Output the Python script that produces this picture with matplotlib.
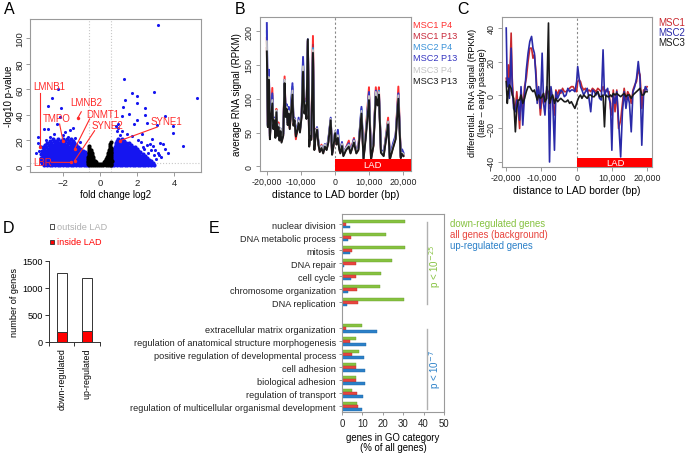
"""
Multi-panel figure: volcano plot, RNA signal around LAD borders,
genes inside/outside LADs and GO category enrichment.
"""
import numpy as np
import matplotlib
matplotlib.use('Agg')
import matplotlib.pyplot as plt
from matplotlib.patches import Rectangle
from matplotlib.ticker import FuncFormatter

plt.rcParams['font.family'] = ['Liberation Sans', 'DejaVu Sans']

W, H = 685, 456

# ---------------- A: volcano plot (log2 fold change, -log10 p) ----------------
# dense cloud, read row by row: (y, [x, ...])
blue_left_rows = [
    (0.8, [-3.0, -2.86, -2.71, -2.57, -2.43, -2.28, -2.14, -2.0, -1.86, -1.71, -1.57, -1.43, -1.29, -1.15, -1.01, -0.88, -0.76, -0.66]),
    (2.2, [-3.12, -2.97, -2.83, -2.68, -2.54, -2.39, -2.25, -2.11, -1.96, -1.82, -1.68, -1.54, -1.4, -1.26, -1.12, -0.98, -0.85, -0.73, -0.63]),
    (3.6, [-3.18, -3.03, -2.88, -2.74, -2.6, -2.45, -2.31, -2.17, -2.02, -1.88, -1.74, -1.6, -1.46, -1.32, -1.18, -1.05, -0.92, -0.8, -0.68]),
    (5.0, [-3.15, -3.0, -2.85, -2.71, -2.57, -2.42, -2.28, -2.14, -1.99, -1.85, -1.71, -1.57, -1.43, -1.29, -1.16, -1.03, -0.9, -0.78, -0.68]),
    (6.4, [-3.2, -3.05, -2.9, -2.76, -2.62, -2.47, -2.33, -2.19, -2.04, -1.9, -1.76, -1.62, -1.48, -1.34, -1.2, -1.07, -0.94, -0.82, -0.71]),
    (7.8, [-3.1, -2.95, -2.81, -2.66, -2.52, -2.38, -2.23, -2.09, -1.95, -1.8, -1.66, -1.52, -1.38, -1.25, -1.11, -0.98, -0.86, -0.74]),
    (9.2, [-3.16, -3.0, -2.86, -2.71, -2.57, -2.42, -2.28, -2.14, -1.99, -1.85, -1.71, -1.57, -1.43, -1.29, -1.16, -1.02, -0.9, -0.78]),
    (10.6, [-3.05, -2.9, -2.75, -2.6, -2.46, -2.31, -2.17, -2.03, -1.88, -1.74, -1.6, -1.46, -1.32, -1.18, -1.05, -0.92, -0.82]),
    (12.0, [-3.12, -2.94, -2.78, -2.63, -2.49, -2.34, -2.2, -2.05, -1.9, -1.76, -1.62, -1.48, -1.34, -1.2, -1.06, -0.93]),
    (13.4, [-3.0, -2.82, -2.66, -2.52, -2.37, -2.22, -2.08, -1.93, -1.79, -1.64, -1.5, -1.36, -1.22, -1.08]),
    (14.8, [-3.08, -2.9, -2.72, -2.55, -2.4, -2.24, -2.1, -1.95, -1.78, -1.62, -1.47, -1.32, -1.17]),
    (16.3, [-2.96, -2.74, -2.58, -2.41, -2.25, -2.08, -1.92, -1.76, -1.58, -1.42, -1.27]),
    (17.8, [-2.85, -2.62, -2.44, -2.27, -2.1, -1.93, -1.75, -1.55, -1.38]),
    (19.3, [-2.7, -2.48, -2.3, -2.12, -1.9, -1.68, -1.45]),
    (21.0, [-2.55, -2.25, -2.02, -1.8, -1.56]),
]
blue_right_rows = [
    (0.8, [0.66, 0.78, 0.92, 1.06, 1.2, 1.34, 1.48, 1.62, 1.76, 1.9, 2.04, 2.18, 2.32, 2.46, 2.6, 2.75, 2.9]),
    (2.2, [0.64, 0.76, 0.9, 1.04, 1.18, 1.32, 1.46, 1.6, 1.74, 1.88, 2.02, 2.16, 2.3, 2.44, 2.58, 2.72, 2.88]),
    (3.6, [0.65, 0.78, 0.92, 1.06, 1.2, 1.34, 1.48, 1.62, 1.76, 1.9, 2.04, 2.18, 2.32, 2.46, 2.6, 2.76]),
    (5.0, [0.67, 0.8, 0.94, 1.08, 1.22, 1.36, 1.5, 1.64, 1.78, 1.92, 2.06, 2.2, 2.34, 2.48, 2.64]),
    (6.4, [0.68, 0.82, 0.96, 1.1, 1.24, 1.38, 1.52, 1.66, 1.8, 1.94, 2.08, 2.22, 2.38, 2.55]),
    (7.8, [0.7, 0.84, 0.98, 1.12, 1.26, 1.4, 1.54, 1.68, 1.82, 1.96, 2.1, 2.26, 2.44]),
    (9.2, [0.71, 0.85, 0.99, 1.13, 1.27, 1.41, 1.55, 1.69, 1.83, 1.97, 2.12, 2.3]),
    (10.6, [0.73, 0.87, 1.01, 1.15, 1.29, 1.43, 1.57, 1.71, 1.85, 2.0, 2.18]),
    (12.0, [0.75, 0.89, 1.03, 1.17, 1.31, 1.45, 1.6, 1.75, 1.9, 2.06]),
    (13.4, [0.78, 0.92, 1.06, 1.2, 1.35, 1.5, 1.66, 1.82, 1.98]),
    (14.8, [0.8, 0.95, 1.1, 1.25, 1.4, 1.56, 1.73, 1.9]),
    (16.3, [0.84, 1.0, 1.16, 1.32, 1.48, 1.66]),
    (17.8, [0.88, 1.05, 1.22, 1.4, 1.58]),
    (19.3, [0.93, 1.12, 1.3]),
    (21.0, [0.98, 1.2]),
]
black_rows = [
    (0.4, [-0.58, -0.47, -0.36, -0.25, -0.14, -0.03, 0.08, 0.19, 0.3, 0.41, 0.52, 0.62]),
    (1.5, [-0.62, -0.51, -0.4, -0.29, -0.18, -0.07, 0.05, 0.16, 0.27, 0.38, 0.49, 0.6]),
    (2.8, [-0.62, -0.52, -0.42, -0.32, -0.22, 0.22, 0.32, 0.42, 0.52, 0.62]),
    (4.2, [-0.63, -0.54, -0.45, -0.36, -0.27, 0.27, 0.36, 0.45, 0.54, 0.63]),
    (5.6, [-0.62, -0.53, -0.44, -0.35, 0.35, 0.44, 0.53, 0.62]),
    (7.0, [-0.62, -0.53, -0.44, -0.36, 0.37, 0.45, 0.54, 0.62]),
    (8.4, [-0.6, -0.51, -0.42, 0.42, 0.51, 0.6]),
    (9.8, [-0.6, -0.51, -0.44, 0.44, 0.52, 0.6]),
    (11.2, [-0.58, -0.49, 0.48, 0.57]),
    (12.6, [-0.58, -0.5, 0.5, 0.58]),
    (14.0, [-0.57, 0.52, 0.6]),
    (15.5, [-0.58, 0.55]),
    (17.0, [0.56]),
    (19.0, [0.58]),
]
# sparse significant genes outside the dense cloud
blue_sparse_x = [-3.37, -2.26, -2.57, -2.83, -2.11, -2.8, -1.62, -1.7, -2.33, -3.24, -2.7, -2.0,
                 -1.9, -2.5, -3.0, -3.3, -3.35, -1.35, -1.1, -2.9, -3.45, -2.15, -1.45,
                 2.4, 2.62, 2.75, 2.92, 3.12, 3.3, 2.86, 2.52, 3.05, 2.98, 2.2, 2.05, 1.75,
                 1.45, 1.1, 0.9, 0.85, 0.98, 1.2, 2.26, 2.8, 3.24, 3.97, 4.5, 3.4, 3.5, 2.3,
                 2.68, 3.2, 3.65, 3.14, 1.28, 1.72, 2.0, 2.9, 5.24, 1.37, 2.0, 1.27, 2.46,
                 1.59, 2.46, 1.17, 3.54, 1.98, 2.52, 1.84, 3.08, 3.97, 1.0]
blue_sparse_y = [23, 60, 53, 47, 45, 29, 28, 22.5, 33, 16, 22.5, 24,
                 26.5, 25, 29, 12, 18, 22, 19, 20, 10, 38, 30,
                 13.5, 10.2, 12.5, 8.3, 10.5, 7.2, 15.6, 16.8, 5.1, 12.8, 18.5, 20.5, 23.5,
                 25, 24, 27, 31, 29.5, 27.5, 25, 21, 18, 26, 16, 17, 13, 15,
                 17, 8.5, 10.5, 110, 68, 57, 55, 58, 53, 52, 49, 46, 45,
                 41, 40, 39, 39, 36, 34, 33, 32, 31, 33]

genes = ['LMNB1', 'TMPO', 'LMNB2', 'DNMT1', 'SYNE2', 'SYNE1', 'LBR']
gene_x = [-3.24, -2.0, -1.2, -1.37, -1.37, 1.08, -1.55]
gene_y = [15, 19.8, 37.5, 13.3, 4.2, 19.8, 2.8]
label_x = [-3.62, -3.08, -1.62, -0.76, -0.45, 2.74, -3.62]
label_y = [62.5, 37.7, 49.8, 40.6, 32.0, 35.4, 2.9]
line_start = [(-3.24, 57), (-2.18, 32.8), (-1.01, 42.4), (-0.56, 36.7), (-0.29, 27.6), (3.1, 30.5), (-2.63, 2.9)]

# ---------------- B: average RNA signal around LAD borders ----------------
b_dist = [-20000, -19700, -19400, -19100, -18800, -18400, -18100, -17800, -17500, -17200,
          -16900, -16600, -16300, -16000, -15700, -15200, -14800, -14500, -14200, -13900,
          -13600, -13300, -12500, -12200, -11900, -11500, -11100, -10700, -10300, -9800,
          -9400, -9000, -8700, -8400, -8000, -7600, -7300, -7000, -6500, -6100,
          -5700, -5300, -4900, -4500, -4000, -3500, -3000, -2500, -2000, -1300,
          -900, -500, 0, 400, 800, 1200, 1500, 2000, 2400, 3200,
          4000, 4500, 5500, 6200, 6800, 7700, 8300, 9000, 9900, 10500,
          11200, 11900, 12400, 12800, 13400, 14200, 15500, 16000, 17000, 17700,
          18500, 19200, 19600, 20000]
msc3_p13 = [170, 58, 128, 40, 70, 93, 55, 68, 42, 80, 45, 58, 38, 52, 35, 45, 123, 73, 85, 61,
            78, 55, 106, 60, 68, 44, 52, 64, 50, 75, 140, 78, 90, 70, 188, 29, 45, 39, 168, 24,
            45, 54, 32, 21, 27, 19, 29, 24, 35, 68, 17, 29, 49, 32, 42, 25, 19, 30, 15, 24,
            29, 19, 35, 19, 24, 78, 10, 45, 98, 10, 30, 103, 90, 106, 20, 15, 62, 10, 28, 40,
            100, 12, 18, 15]
msc2_p13 = [212, 62, 143, 45, 78, 108, 65, 72, 50, 82, 55, 62, 44, 56, 40, 48, 128, 80, 92, 66,
            88, 62, 123, 68, 72, 50, 56, 72, 55, 80, 162, 85, 95, 78, 188, 35, 52, 44, 170, 28,
            50, 58, 36, 25, 30, 22, 33, 26, 40, 72, 20, 35, 52, 38, 54, 30, 22, 36, 18, 28,
            34, 22, 40, 22, 28, 88, 14, 50, 110, 14, 35, 112, 95, 110, 25, 20, 66, 14, 35, 46,
            108, 15, 25, 20]
msc1_p4 = [190, 65, 140, 48, 75, 116, 62, 70, 48, 85, 52, 65, 42, 55, 38, 52, 133, 78, 88, 70,
           82, 58, 115, 64, 70, 40, 55, 68, 58, 78, 150, 82, 100, 75, 186, 33, 50, 42, 193, 26,
           55, 56, 35, 24, 32, 22, 30, 28, 38, 70, 20, 32, 50, 34, 45, 28, 22, 34, 18, 28,
           38, 21, 42, 21, 30, 82, 13, 55, 117, 12, 33, 117, 92, 117, 24, 18, 72, 12, 30, 44,
           118, 14, 20, 18]
msc1_p13 = [175, 60, 130, 42, 72, 100, 58, 70, 45, 80, 48, 60, 40, 53, 37, 46, 125, 75, 86, 64,
            80, 56, 110, 62, 68, 45, 54, 66, 52, 76, 145, 80, 92, 72, 185, 31, 48, 40, 180, 25,
            48, 55, 33, 22, 28, 20, 30, 25, 36, 68, 18, 30, 49, 33, 43, 26, 20, 31, 16, 25,
            31, 20, 37, 20, 25, 80, 11, 48, 105, 11, 31, 108, 92, 108, 22, 16, 64, 11, 30, 42,
            104, 13, 19, 16]
msc2_p4 = [200, 60, 138, 44, 74, 105, 60, 72, 46, 82, 50, 60, 42, 55, 38, 48, 126, 76, 90, 65,
           84, 60, 118, 65, 70, 48, 55, 68, 54, 78, 158, 84, 94, 76, 186, 33, 50, 42, 175, 27,
           50, 57, 35, 24, 30, 22, 32, 26, 38, 70, 20, 33, 50, 36, 50, 28, 22, 33, 18, 27,
           33, 21, 39, 21, 27, 85, 13, 50, 108, 13, 34, 110, 94, 112, 24, 18, 66, 12, 32, 44,
           106, 14, 22, 18]
msc3_p4 = [185, 62, 132, 45, 73, 98, 60, 70, 45, 83, 50, 62, 42, 56, 40, 50, 128, 76, 88, 66,
           82, 58, 112, 64, 70, 48, 54, 68, 55, 78, 148, 82, 94, 75, 186, 33, 50, 42, 172, 27,
           52, 56, 35, 24, 30, 22, 32, 26, 38, 70, 20, 32, 52, 35, 46, 28, 22, 33, 18, 27,
           32, 21, 38, 21, 27, 82, 13, 52, 104, 12, 33, 110, 93, 110, 23, 18, 66, 12, 30, 42,
           105, 14, 20, 18]
b_series = ['MSC1 P4', 'MSC1 P13', 'MSC2 P4', 'MSC2 P13', 'MSC3 P4', 'MSC3 P13']
b_values = [msc1_p4, msc1_p13, msc2_p4, msc2_p13, msc3_p4, msc3_p13]
b_colors = ['#ff3030', '#c8283a', '#3a92d8', '#3535c0', '#c4c4c4', '#1a1a1a']

# ---------------- C: differential RNA signal (late - early passage) ----------------
c_dist = [-20000, -19700, -19400, -19100, -18600, -18300, -17900, -17400, -17000, -16600,
          -16200, -15800, -15300, -14800, -14300, -13800, -13300, -12800, -12400, -12000,
          -11600, -11200, -10800, -10300, -9800, -9400, -9000, -8500, -8000, -7700,
          -7300, -6800, -6300, -5900, -5400, -5000, -4500, -4000, -3500, -3000,
          -2500, -2000, -1500, -1000, -500, 0, 300, 700, 1100, 1500,
          2000, 2500, 3000, 3500, 4000, 4500, 5000, 5500, 6000, 6500,
          7000, 7500, 7900, 8300, 8800, 9200, 9600, 10000, 10400, 10900,
          11400, 11900, 12500, 13000, 13500, 14000, 14500, 15000, 15500, 16000,
          16500, 17000, 17500, 18000, 18500, 19000, 19500, 20000]
diff_msc1 = [10, 5, 18, 2, 37, 10, -5, -8, 2, -8, -20, 3, -10, 5, 10, 20, 28, 28, 22, 24,
             15, 0, 3, -12, 0, -5, -2, 3, 2, -8, 3, -5, -12, 3, 0, 3, 1, 4, 2, 2,
             3, 4, 5, 5, 3, 2, 8, 9, 8, 5, 3, 4, 2, 3, 2, 4, 3, 2, 4, 3,
             2, 5, 2, 3, 2, 2, -8, -12, 3, -10, 3, -20, -15, -5, 4, -3, 2, 0, -5, 3,
             6, 8, 15, 12, -8, 3, 3, 5]
diff_msc2 = [40, 5, 10, -2, 28, 5, -8, -10, -3, -5, -15, 5, -18, 0, 15, 25, 32, 35, 28, 25,
             12, -5, 5, -8, 25, -5, -12, 5, 0, -40, 5, -3, -33, 2, -2, 0, 3, 2, -1, 0,
             4, 2, 3, 3, 2, 8, 17, 10, 5, 3, 0, 2, 4, -2, -10, 3, 2, 0, 2, -2,
             -3, 27, 0, 2, 4, -2, -5, -33, 0, -5, 2, -15, -37, -10, 2, -8, 0, -5, -22, 2,
             5, 10, 20, 10, -30, 0, 5, 3]
diff_msc3 = [8, -5, 2, 6, 4, 0, -2, -22, -8, -3, -3, 0, -5, -2, 2, 5, 5, 3, 2, 3,
             0, -3, 0, -2, -1, 1, -4, -2, 43, -5, -2, 0, -5, -2, -4, -3, -2, -3, -4, -4,
             -3, -5, -4, -6, -8, -5, -3, -1, 0, -2, 0, -1, -2, 0, 0, -1, -1, 1, 2, -1,
             -1, 0, -19, 0, -1, -1, 0, -1, 1, 0, 1, 0, -1, 0, 1, -1, 0, 0, -2, 0,
             1, 2, 3, 4, 0, 0, 2, 2]
c_series = ['MSC1', 'MSC2', 'MSC3']
c_values = [diff_msc1, diff_msc2, diff_msc3]
c_colors = ['#c8282e', '#2a2aa8', '#1a1a1a']

# ---------------- D: genes inside / outside LADs ----------------
d_groups = ['down-regulated', 'up-regulated']
d_total = [1280, 1180]
d_inside = [180, 195]

# ---------------- E: GO categories ----------------
go_terms = ['nuclear division', 'DNA metabolic process', 'mitosis', 'DNA repair', 'cell cycle',
            'chromosome organization', 'DNA replication',
            'extracellular matrix organization', 'regulation of anatomical structure morphogenesis',
            'positive regulation of developmental process', 'cell adhesion', 'biological adhesion',
            'regulation of transport', 'regulation of multicellular organismal development']
go_down = [30.7, 21.7, 30.7, 24.7, 19.3, 18.5, 30.4, 9.8, 7.0, 8.3, 7.0, 7.0, 5.0, 7.4]
go_all = [2.1, 4.2, 4.9, 6.7, 6.7, 7.4, 8.0, 2.1, 4.1, 4.9, 6.7, 6.7, 7.4, 8.0]
go_up = [3.8, 2.9, 3.8, 1.0, 4.6, 2.9, 2.6, 17.2, 11.9, 10.8, 11.3, 11.3, 10.3, 10.0]

GREEN, RED, BLUE = '#86c240', '#e8453e', '#2b80c8'
GRAY = '#9a9a9a'

fig = plt.figure(figsize=(W / 100, H / 100), dpi=100)


def px_axes(l, t, r, b):
    return fig.add_axes([l / W, 1 - b / H, (r - l) / W, (b - t) / H])


def r_style(ax, fs, pad=1.5):
    for s in ax.spines.values():
        s.set_color(GRAY)
        s.set_linewidth(0.8)
    ax.tick_params(colors=GRAY, labelcolor='#222222', labelsize=fs, length=3, width=0.7, pad=pad)
    ax.tick_params(axis='y', labelrotation=90)
    for lab in ax.get_yticklabels():
        lab.set_va('center')


# ---- A
axA = px_axes(30, 20, 201, 173)
for y, xs in blue_left_rows + blue_right_rows:
    axA.scatter(xs, [y] * len(xs), s=9, color='#1515f0', linewidths=0, zorder=2)
axA.scatter(blue_sparse_x, blue_sparse_y, s=5, color='#1515f0', linewidths=0, zorder=2)
for y, xs in black_rows:
    axA.scatter(xs, [y] * len(xs), s=9, color='black', linewidths=0, zorder=3)
axA.axvline(-0.58, color='#c8c8c8', ls=':', lw=0.8, zorder=1)
axA.axvline(0.59, color='#c8c8c8', ls=':', lw=0.8, zorder=1)
axA.axhline(2.3, color='#c8c8c8', ls=':', lw=0.8, zorder=1)
for g, gx, gy, lx, ly, (sx, sy) in zip(genes, gene_x, gene_y, label_x, label_y, line_start):
    axA.plot([sx, gx], [sy, gy], color='#ff2a2a', lw=0.8, zorder=4)
    axA.scatter([gx], [gy], s=6, color='#ff2a2a', linewidths=0, zorder=5)
    axA.text(lx, ly, g, color='#ff2a2a', fontsize=7, ha='left', va='center', zorder=6)
axA.set_xlim(-3.78, 5.46)
axA.set_ylim(-4.7, 115)
axA.set_xticks([-2, 0, 2, 4])
axA.set_yticks([0, 20, 40, 60, 80, 100])
r_style(axA, 6.8, pad=1)
axA.set_xlabel('fold change log2', fontsize=7, labelpad=2)
axA.set_ylabel('-log10 p-value', fontsize=7, labelpad=1)

# ---- B
axB = px_axes(260, 18, 411, 172)
for vals, col in zip(b_values, b_colors):
    axB.plot(b_dist, vals, color=col, lw=1.4, zorder=2)
axB.axvline(0, color='#888888', ls=(0, (2, 2)), lw=0.8, zorder=1)
axB.add_patch(Rectangle((0, -20), 30000, 31, color='#ff0000', lw=0, zorder=3))
axB.text(11000, 2.5, 'LAD', color='white', fontsize=6.8, ha='center', va='center', zorder=4)
axB.set_xlim(-22000, 22200)
axB.set_ylim(-7, 221)
axB.set_xticks([-20000, -10000, 0, 10000, 20000])
axB.set_yticks([0, 50, 100, 150, 200])
axB.xaxis.set_major_formatter(FuncFormatter(lambda v, p: f'{int(v):,}'))
r_style(axB, 6.4)
axB.set_xlabel('distance to LAD border (bp)', fontsize=7.5, labelpad=2)
axB.set_ylabel('average RNA signal (RPKM)', fontsize=7, labelpad=2)
for i, (name, col) in enumerate(zip(b_series, b_colors)):
    fig.text(413 / W, 1 - (25 + 11.3 * i) / H, name, color=col, fontsize=6.6, va='center')

# ---- C
axC = px_axes(502, 18, 652, 168)
for vals, col in zip(c_values, c_colors):
    axC.plot(c_dist, vals, color=col, lw=1.2, zorder=2)
axC.axvline(0, color='#888888', ls=(0, (2, 2)), lw=0.8, zorder=1)
axC.add_patch(Rectangle((0, -50), 30000, 12.4, color='#ff0000', lw=0, zorder=3))
axC.text(11000, -40.3, 'LAD', color='white', fontsize=6.8, ha='center', va='center', zorder=4)
axC.set_xlim(-21200, 21400)
axC.set_ylim(-43, 46.6)
axC.set_xticks([-20000, -10000, 0, 10000, 20000])
axC.set_yticks([-40, -20, 0, 20, 40])
axC.xaxis.set_major_formatter(FuncFormatter(lambda v, p: f'{int(v):,}'))
r_style(axC, 6.4)
axC.set_xlabel('distance to LAD border (bp)', fontsize=7.5, labelpad=2)
axC.set_ylabel('differential. RNA signal (RPKM)\n(late \u2013 early passage)', fontsize=6.6,
               labelpad=0, linespacing=1.05)
for i, (name, col) in enumerate(zip(c_series, c_colors)):
    fig.text(658 / W, 1 - (23.3 + 10 * i) / H, name, color=col, fontsize=7, va='center')

# ---- D
axD = px_axes(49, 262, 100, 343)
xd = np.arange(len(d_groups)) + 0.5
axD.bar(xd, d_total, width=0.4, color='white', edgecolor='#333333', lw=0.7, zorder=2)
axD.bar(xd, d_inside, width=0.4, color='#ff0000', edgecolor='#333333', lw=0.7, zorder=3)
axD.set_xlim(0, 2)
axD.set_ylim(0, 1500)
axD.set_yticks([0, 500, 1000, 1500])
axD.set_xticks(xd)
axD.set_xticklabels(d_groups, rotation=90, fontsize=6.4)
axD.set_xticks([0, 1, 2], minor=True)
axD.tick_params(axis='x', which='major', length=0, pad=4)
axD.tick_params(axis='x', which='minor', length=3, color='#333333', width=0.7)
axD.tick_params(axis='y', labelsize=6.6, length=3, width=0.7, color='#333333', pad=1.5)
for s in ['top', 'right']:
    axD.spines[s].set_visible(False)
for s in ['left', 'bottom']:
    axD.spines[s].set_color('#333333')
    axD.spines[s].set_linewidth(0.7)
axD.set_ylabel('number of genes', fontsize=6.6, labelpad=2)
fig.add_artist(Rectangle((49.5 / W, 1 - 229.5 / H), 4.5 / W, 4.5 / H, transform=fig.transFigure,
                         facecolor='white', edgecolor='#333333', lw=0.6))
fig.text(57 / W, 1 - 227.3 / H, 'outside LAD', color='#b0b0b0', fontsize=6.6, va='center')
fig.add_artist(Rectangle((49.5 / W, 1 - 245 / H), 4.5 / W, 4.5 / H, transform=fig.transFigure,
                         facecolor='#ff0000', edgecolor='#333333', lw=0.6))
fig.text(57 / W, 1 - 242.7 / H, 'inside LAD', color='#ff0000', fontsize=6.6, va='center')

# ---- E
axE = px_axes(342, 215, 444, 413)
pos = np.array(list(range(7)) + list(range(8, 15)))
bh = 0.23
axE.barh(pos - 0.23, go_down, height=bh, color=GREEN, edgecolor='#6a9e30', lw=0.3)
axE.barh(pos, go_all, height=bh, color=RED, edgecolor='#c03530', lw=0.3)
axE.barh(pos + 0.23, go_up, height=bh, color=BLUE, edgecolor='#1f65a5', lw=0.3)
axE.set_xlim(0, 50)
axE.set_ylim(14.46, -0.77)
axE.set_yticks(pos)
axE.set_yticklabels(go_terms, fontsize=6.6)
axE.set_xticks([0, 10, 20, 30, 40, 50])
for s in axE.spines.values():
    s.set_color(GRAY)
    s.set_linewidth(0.8)
axE.tick_params(colors=GRAY, labelcolor='#222222', length=2.5, width=0.7, pad=2)
axE.tick_params(axis='x', labelsize=6.9)
axE.plot([41.7, 41.7], [-0.15, 6.15], color='#b0b0b0', lw=1)
axE.plot([41.7, 41.7], [8.1, 14.25], color='#b0b0b0', lw=1)
axE.text(45.6, 3.2, r'p < 10$^{-25}$', color=GREEN, rotation=90, ha='center', va='center', fontsize=7)
axE.text(45.6, 11.15, r'p < 10$^{-7}$', color=BLUE, rotation=90, ha='center', va='center', fontsize=7)
fig.text(393 / W, 1 - 443 / H, 'genes in GO category\n(% of all genes)', fontsize=6.9,
         ha='center', va='center', linespacing=1.1)
for i, (txt, col) in enumerate(zip(['down-regulated genes', 'all genes (background)', 'up-regulated genes'],
                                   [GREEN, RED, BLUE])):
    fig.text(450 / W, 1 - (224 + 11 * i) / H, txt, color=col, fontsize=6.9, va='center')

# panel letters
for letter, x, y in [('A', 4, 9), ('B', 235, 10), ('C', 457, 9), ('D', 3, 229), ('E', 209, 229)]:
    fig.text(x / W, 1 - y / H, letter, fontsize=11.5, va='center', ha='left')

fig.savefig('out.png', dpi=100)
